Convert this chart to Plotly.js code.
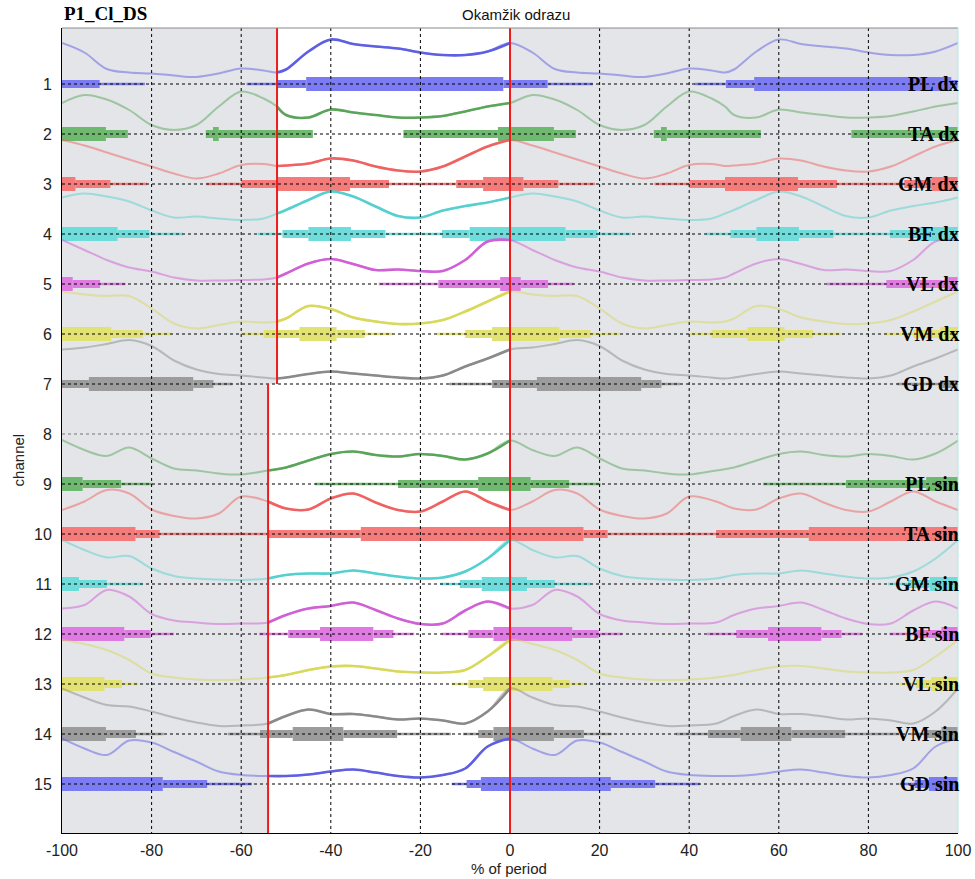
<!DOCTYPE html>
<html><head><meta charset="utf-8">
<script src="https://cdn.plot.ly/plotly-3.0.1.min.js"></script>
<style>html,body{margin:0;padding:0;background:#fff}#plot{width:975px;height:879px}</style>
</head><body><div id="plot"></div>
<script>
// ---- data: one period (-100..0), the chart shows it twice (-100..100) ----
const xTop = [-100,-95,-90,-85,-80,-75,-70,-65,-60,-55,-52,-50,-45,-40,-35,-30,-25,-20,-15,-10,-5,0];
const xBot = [-100,-95,-90,-85,-80,-75,-70,-65,-60,-54,-50,-45,-40,-35,-30,-25,-20,-15,-10,-5,0];

// envelope heights above each channel baseline (channel units)
const hPLdx  = [0.82,0.63,0.30,0.23,0.21,0.17,0.14,0.21,0.31,0.27,0.23,0.29,0.65,0.89,0.80,0.75,0.71,0.63,0.58,0.58,0.65,0.82];
const hTAdx  = [0.62,0.78,0.69,0.48,0.18,0.08,0.18,0.55,0.85,0.71,0.55,0.38,0.33,0.49,0.43,0.38,0.33,0.33,0.36,0.45,0.55,0.62];
const hGMdx  = [0.88,0.77,0.63,0.49,0.35,0.21,0.11,0.21,0.38,0.40,0.36,0.37,0.41,0.51,0.47,0.35,0.27,0.25,0.35,0.55,0.75,0.88];
const hBFdx  = [0.73,0.81,0.75,0.65,0.47,0.33,0.35,0.31,0.28,0.31,0.41,0.48,0.68,0.85,0.75,0.55,0.36,0.33,0.47,0.56,0.63,0.73];
const hVLdx  = [0.88,0.68,0.48,0.33,0.25,0.13,0.07,0.07,0.08,0.09,0.13,0.21,0.41,0.50,0.40,0.28,0.29,0.26,0.26,0.48,0.85,0.88];
const hVMdx  = [0.85,0.79,0.76,0.76,0.51,0.21,0.11,0.18,0.25,0.23,0.25,0.31,0.56,0.50,0.33,0.25,0.20,0.21,0.28,0.45,0.65,0.85];
const hGDdx  = [0.69,0.73,0.80,0.88,0.76,0.47,0.29,0.20,0.17,0.13,0.11,0.13,0.20,0.25,0.21,0.17,0.13,0.11,0.17,0.35,0.51,0.69];
const hPLsin = [0.88,0.68,0.56,0.73,0.51,0.31,0.27,0.21,0.19,0.27,0.33,0.47,0.60,0.65,0.58,0.55,0.60,0.56,0.49,0.61,0.87];
const hTAsin = [0.48,0.65,0.88,0.81,0.49,0.36,0.31,0.41,0.75,0.65,0.51,0.49,0.71,0.81,0.63,0.48,0.45,0.65,0.85,0.65,0.48];
const hGMsin = [0.88,0.68,0.53,0.56,0.31,0.16,0.11,0.09,0.08,0.11,0.18,0.21,0.21,0.27,0.21,0.15,0.11,0.13,0.25,0.51,0.88];
const hBFsin = [0.51,0.58,0.88,0.75,0.40,0.27,0.23,0.20,0.21,0.23,0.38,0.51,0.56,0.63,0.48,0.31,0.20,0.21,0.47,0.65,0.51];
const hVLsin = [0.88,0.80,0.68,0.48,0.21,0.13,0.09,0.08,0.09,0.13,0.18,0.28,0.35,0.36,0.31,0.25,0.23,0.23,0.28,0.55,0.88];
const hVMsin = [0.91,0.73,0.58,0.55,0.45,0.33,0.23,0.16,0.17,0.21,0.36,0.49,0.40,0.40,0.35,0.29,0.31,0.27,0.21,0.45,0.91];
const hGDsin = [0.91,0.71,0.58,0.87,0.83,0.64,0.45,0.25,0.18,0.16,0.16,0.19,0.25,0.29,0.23,0.16,0.13,0.18,0.31,0.75,0.91];

// activity bars: [start, end, level 1..3]
const segPLdx  = [[-100,-91.6,2],[-91.6,-81.5,1],[-58.8,-51.8,1],[-51.8,-45.5,2],[-45.5,-1.5,3],[-1.5,0,2]];
const segTAdx  = [[-100,-90.2,3],[-90.2,-85.3,2],[-67.9,-66.3,2],[-66.3,-65,3],[-65,-44,2],[-23.8,-2.7,2],[-2.7,0,3]];
const segGMdx  = [[-100,-97,3],[-97,-89.2,2],[-89.2,-81,1],[-67.8,-60,1],[-60,-52,2],[-52,-35.7,3],[-35.7,-27,2],[-27,-12,1],[-12,-6,2],[-6,0,3]];
const segBFdx  = [[-100,-87.6,3],[-87.6,-80.5,2],[-80.5,-73,1],[-56.3,-50.8,1],[-50.8,-45,2],[-45,-35.5,3],[-35.5,-27.8,2],[-27.8,-15.2,1],[-15.2,-9,2],[-9,0,3]];
const segVLdx  = [[-100,-97.6,3],[-97.6,-91.5,2],[-91.5,-85.8,1],[-29.3,-16,1],[-16,-2.2,2],[-2.2,0,3]];
const segVMdx  = [[-100,-89,3],[-89,-82,2],[-82,-75.5,1],[-60,-55,1],[-55,-47,2],[-47,-38.7,3],[-38.7,-32.4,2],[-32.4,-26.2,1],[-16.4,-10,1],[-10,-4,2],[-4,0,3]];
const segGDdx  = [[-100,-94,2],[-94,-70.7,3],[-70.7,-66.2,2],[-66.2,-62,1],[-13.6,-4,1],[-4,0,2]];
const segPLsin = [[-100,-95.4,3],[-95.4,-86.8,2],[-86.8,-79.8,1],[-43.5,-25,1],[-25,-7.1,2],[-7.1,0,3]];
const segTAsin = [[-100,-83.6,3],[-83.6,-78.2,2],[-78.2,-54,1],[-54,-33.3,2],[-33.3,0,3]];
const segGMsin = [[-100,-96.2,3],[-96.2,-90,2],[-90,-82,1],[-15.6,-11.2,1],[-11.2,-6.3,2],[-6.3,0,3]];
const segBFsin = [[-100,-86.1,3],[-86.1,-80.2,2],[-80.2,-75,1],[-56,-49.5,1],[-49.5,-42.4,2],[-42.4,-30.5,3],[-30.5,-26,2],[-26,-21.4,1],[-15.3,-9.3,1],[-9.3,-3.7,2],[-3.7,0,3]];
const segVLsin = [[-100,-90.5,3],[-90.5,-86.6,2],[-86.6,-83,1],[-13,-9.3,1],[-9.3,-6,2],[-6,0,3]];
const segVMsin = [[-100,-90.2,3],[-90.2,-83.5,2],[-83.5,-77.3,1],[-63,-55.8,1],[-55.8,-48.5,2],[-48.5,-37.2,3],[-37.2,-25.2,2],[-25.2,-13.2,1],[-10.5,-7.1,1],[-7.1,-3.7,2],[-3.7,0,3]];
const segGDsin = [[-100,-77.5,3],[-77.5,-67.6,2],[-67.6,-57.6,1],[-13,-9.7,1],[-9.7,-6.5,2],[-6.5,0,3]];

const channelNums  = [1,2,3,4,5,6,7,9,10,11,12,13,14,15];
const channelNames = ['PL dx','TA dx','GM dx','BF dx','VL dx','VM dx','GD dx','PL sin','TA sin','GM sin','BF sin','VL sin','VM sin','GD sin'];
const heights = [hPLdx,hTAdx,hGMdx,hBFdx,hVLdx,hVMdx,hGDdx,hPLsin,hTAsin,hGMsin,hBFsin,hVLsin,hVMsin,hGDsin];
const segments = [segPLdx,segTAdx,segGMdx,segBFdx,segVLdx,segVMdx,segGDdx,segPLsin,segTAsin,segGMsin,segBFsin,segVLsin,segVMsin,segGDsin];

const yTicks = [1,2,3,4,5,6,7,8,9,10,11,12,13,14,15];
const xTicks = [-100,-80,-60,-40,-20,0,20,40,60,80,100];
const xGrid  = [-80,-60,-40,-20,20,40,60,80];
const periodShifts = [0,100];
const markerTop = -52, markerBot = -54, markerRebound = 0;

// ---- styles ----
const curveCols = {1:'#5f5fe4',2:'#5aa55a',3:'#f06262',4:'#55d0d0',5:'#d060d6',6:'#d8d85a',7:'#8a8a8a',
                   9:'#5aa55a',10:'#f06262',11:'#55d0d0',12:'#d060d6',13:'#d8d85a',14:'#8a8a8a',15:'#5f5fe4'};
const barCols = {1:'#7b7bf3',2:'#6fb86f',3:'#f57a7a',4:'#6fdcdc',5:'#e07ae3',6:'#e2e272',7:'#9c9c9c',
                 9:'#6fb86f',10:'#f57a7a',11:'#6fdcdc',12:'#e07ae3',13:'#e2e272',14:'#9c9c9c',15:'#7b7bf3'};
const levelWidth = [0,2.5,8,14];
const Y_TOP = -0.12, Y_BOT = 15.98;

const traces = [];
channelNums.forEach((k,i)=>{
  for (let lvl=1; lvl<=3; lvl++){
    const xs=[], ys=[];
    periodShifts.forEach(s=>{
      segments[i].forEach(sg=>{ if(sg[2]===lvl){ xs.push(sg[0]+s, sg[1]+s, null); ys.push(k,k,null);} });
    });
    traces.push({x:xs,y:ys,mode:'lines',line:{color:barCols[k],width:levelWidth[lvl]},hoverinfo:'skip',showlegend:false});
  }
});
channelNums.forEach((k,i)=>{
  const top = k<=7;
  const xg = top ? xTop : xBot;
  const h = heights[i];
  const xs = xg.concat(xg.slice(1).map(v=>v+100));
  const ys = h.concat(h.slice(1)).map(v=>k-v);
  traces.push({x:xs,y:ys,mode:'lines',line:{color:curveCols[k],width:2,shape:'spline',smoothing:1},opacity:0.5,hoverinfo:'skip',showlegend:false});
  const idx = xg.indexOf(top?markerTop:markerBot);
  traces.push({x:xg.slice(idx),y:h.slice(idx).map(v=>k-v),mode:'lines',line:{color:curveCols[k],width:2.6,shape:'spline',smoothing:1},hoverinfo:'skip',showlegend:false});
});

const shapes = [
  {type:'rect',xref:'x',yref:'y',x0:markerTop,x1:markerRebound,y0:Y_TOP,y1:7,fillcolor:'#ffffff',line:{width:0},layer:'below'},
  {type:'rect',xref:'x',yref:'y',x0:markerBot,x1:markerRebound,y0:7,y1:Y_BOT,fillcolor:'#ffffff',line:{width:0},layer:'below'}
];
yTicks.forEach(v=>shapes.push({type:'line',xref:'x',yref:'y',x0:-100,x1:100,y0:v,y1:v,line:{color:v===8?'#777':'#000',width:1,dash:'dot'},layer:'above'}));
xGrid.forEach(v=>shapes.push({type:'line',xref:'x',yref:'y',x0:v,x1:v,y0:Y_TOP,y1:Y_BOT,line:{color:'#000',width:1,dash:'dot'},layer:'above'}));
shapes.push({type:'line',xref:'x',yref:'y',x0:markerTop,x1:markerTop,y0:Y_TOP,y1:7,line:{color:'#ee1c1c',width:2},layer:'above'});
shapes.push({type:'line',xref:'x',yref:'y',x0:markerBot,x1:markerBot,y0:7,y1:Y_BOT,line:{color:'#ee1c1c',width:2},layer:'above'});
shapes.push({type:'line',xref:'x',yref:'y',x0:markerRebound,x1:markerRebound,y0:Y_TOP,y1:Y_BOT,line:{color:'#ee1c1c',width:2},layer:'above'});
shapes.push({type:'line',xref:'paper',yref:'paper',x0:0,x1:1,y0:1,y1:1,line:{color:'#8a8a8a',width:1},layer:'above'});
shapes.push({type:'line',xref:'paper',yref:'paper',x0:1,x1:1,y0:0,y1:1,line:{color:'#b5e6e6',width:1},layer:'above'});

const serif = {family:'Liberation Serif, Times New Roman, serif',size:20,color:'#000'};
const sans = {family:'Liberation Sans, Arial, sans-serif',size:16,color:'#222'};
const annotations = channelNums.map((k,i)=>({x:100,y:k,xref:'x',yref:'y',xanchor:'right',yanchor:'middle',xshift:3,
  text:'<b>'+channelNames[i]+'</b>',showarrow:false,font:serif}));
annotations.push({xref:'paper',yref:'paper',x:0,y:1,yanchor:'bottom',xanchor:'left',yshift:2,text:'<b>P1_Cl_DS</b>',showarrow:false,font:Object.assign({},serif,{size:19})});
annotations.push({xref:'paper',yref:'paper',x:0.5067,y:1,yanchor:'bottom',xanchor:'center',yshift:3,text:'Okamžik odrazu',showarrow:false,font:Object.assign({},sans,{size:15,color:'#111'})});
annotations.push({xref:'paper',yref:'paper',x:0.499,y:-0.0435,yanchor:'middle',xanchor:'center',text:'% of period',showarrow:false,font:Object.assign({},sans,{size:15})});
annotations.push({xref:'paper',yref:'paper',x:-0.049,y:0.463,yanchor:'middle',xanchor:'center',textangle:-90,text:'channel',showarrow:false,font:Object.assign({},sans,{size:15})});

const layout = {
  width:975,height:879,
  margin:{l:62,r:17,t:28,b:46},
  paper_bgcolor:'#ffffff',
  plot_bgcolor:'#e3e5e8',
  showlegend:false,
  xaxis:{range:[-100,100],tickvals:xTicks,ticktext:xTicks.map(String),showgrid:false,zeroline:false,
         showline:true,linecolor:'#000',linewidth:1,ticks:'outside',ticklen:3,tickcolor:'rgba(0,0,0,0)',
         tickfont:sans,fixedrange:true},
  yaxis:{range:[Y_BOT,Y_TOP],tickvals:yTicks,ticktext:yTicks.map(String),showgrid:false,zeroline:false,
         showline:true,linecolor:'#000',linewidth:1,ticks:'outside',ticklen:6,tickcolor:'rgba(0,0,0,0)',
         tickfont:sans,fixedrange:true},
  shapes:shapes,
  annotations:annotations
};
Plotly.newPlot('plot',traces,layout,{displayModeBar:false,staticPlot:true});
</script></body></html>
